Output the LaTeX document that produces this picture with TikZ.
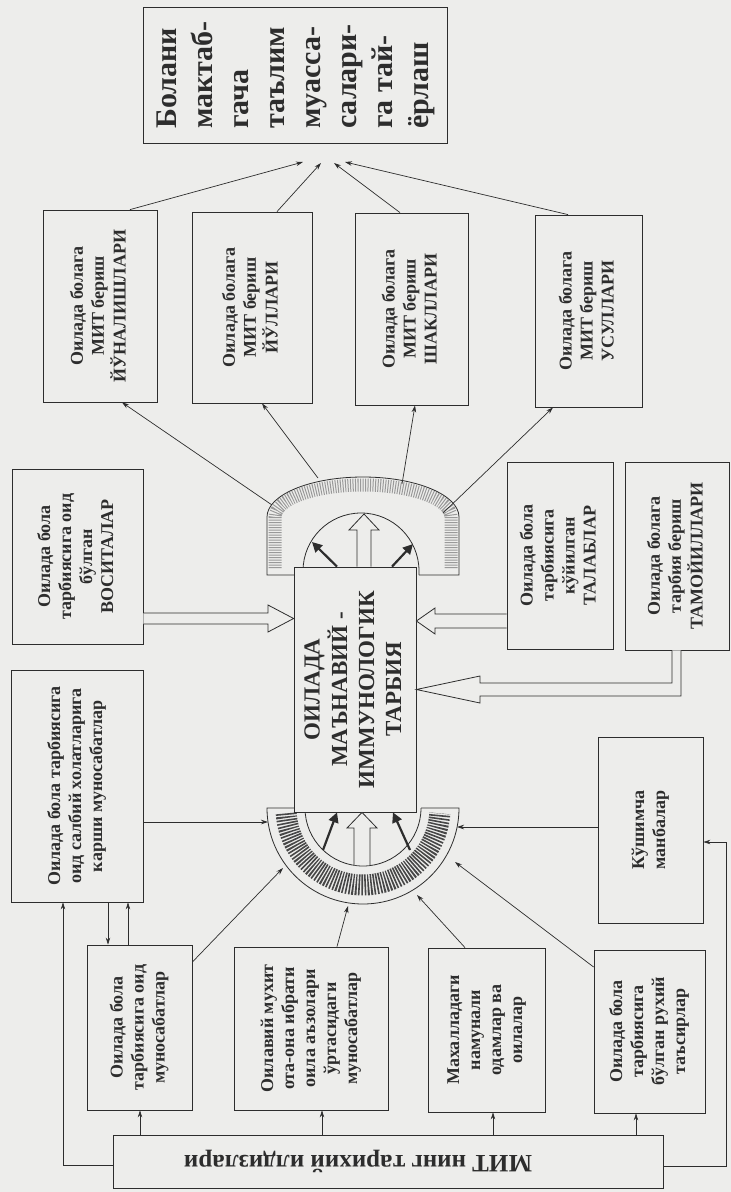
\documentclass[tikz,border=0pt]{standalone}
\usepackage{fontspec}
\setmainfont{Liberation Serif}
\usepackage{graphicx}
\usetikzlibrary{arrows.meta,calc}
\definecolor{paper}{RGB}{237,237,235}
\definecolor{ink}{RGB}{45,45,45}
\newcommand{\myrot}[2]{\rotatebox{90}{\begin{tabular}{@{}#1@{}}#2\end{tabular}}}
\begin{document}
\begin{tikzpicture}[x=1pt,y=-1pt,
  box/.style={draw=ink, line width=0.8pt, inner sep=0pt, font=\bfseries\fontsize{18}{21}\selectfont, text=ink},
  arr/.style={draw=ink, line width=0.7pt, -{Stealth[length=7pt,width=4.5pt]}},
  barr/.style={draw=ink, line width=2.2pt, -{Triangle[length=10pt,width=10pt]}},
  hol/.style={draw=ink, line width=0.8pt, fill=paper, line join=miter},
  ring/.style={draw=ink, line width=0.8pt}]
\useasboundingbox (0,0) rectangle (731,1192);
\fill[paper] (0,0) rectangle (731,1192);

% ---------- rings ----------
% upper arch
\draw[line width=13pt, draw=black!40, dash pattern=on 1pt off 1.5pt] (275,568) -- (275,517) arc[start angle=180, end angle=360, x radius=88, y radius=32] -- (451,568);
\draw[ring] (303,575) -- (267,575) -- (267,517) arc[start angle=180, end angle=360, x radius=96, y radius=40] -- (459,575) -- (419,575);
\draw[ring] (303,575) -- (303,571) arc[start angle=180, end angle=360, radius=58] -- (419,575);
% lower ring
\draw[line width=21pt, draw=black!72, dash pattern=on 1.6pt off 1.4pt] (363,808) ++(176:77) arc[start angle=176, end angle=4, radius=77];
\draw[ring] (305,808) -- (267,808) arc[start angle=180, end angle=0, radius=96] -- (421,808);
\draw[ring] (305,808) arc[start angle=180, end angle=0, radius=58];

% ---------- nodes ----------
\node[box, minimum width=304, minimum height=136, font=\bfseries\fontsize{30}{36}\selectfont] (top) at (295,75)
  {\myrot{l}{Болани\\мактаб-\\гача\\таълим\\муасса-\\салари-\\га тай-\\ёрлаш}};
\node[box, minimum width=114, minimum height=192] (b1) at (100,306) {\myrot{c}{Оилада болага\\МИТ бериш\\ЙЎНАЛИШЛАРИ}};
\node[box, minimum width=120, minimum height=191] (b2) at (252,307.5) {\myrot{c}{Оилада болага\\МИТ бериш\\ЙЎЛЛАРИ}};
\node[box, minimum width=113, minimum height=192] (b3) at (411.5,309) {\myrot{c}{Оилада болага\\МИТ бериш\\ШАКЛЛАРИ}};
\node[box, minimum width=107, minimum height=192] (b4) at (588.5,311) {\myrot{c}{Оилада болага\\МИТ бериш\\УСУЛЛАРИ}};
\node[box, minimum width=131, minimum height=175] (b5) at (77.5,556.5) {\myrot{c}{Оилада бола\\тарбиясига оид\\бўлган\\ВОСИТАЛАР}};
\node[box, fill=paper, minimum width=122, minimum height=245, font=\bfseries\fontsize{23}{27}\selectfont] (c) at (355,689.5)
  {\myrot{c}{ОИЛАДА\\МАЪНАВИЙ -\\ИММУНОЛОГИК\\ТАРБИЯ}};
\node[box, minimum width=106, minimum height=187] (b7) at (560,555.5) {\myrot{c}{Оилада бола\\тарбиясига\\кўйилган\\ТАЛАБЛАР}};
\node[box, minimum width=104, minimum height=188] (b8) at (677,556) {\myrot{c}{Оилада болага\\тарбия бериш\\ТАМОЙИЛЛАРИ}};
\node[box, minimum width=132, minimum height=232] (b9) at (77,786) {\myrot{c}{Оилада бола тарбиясига\\оид салбий холатларига\\карши муносабатлар}};
\node[box, minimum width=105, minimum height=165] (b10) at (139.5,1027.5) {\myrot{c}{Оилада бола\\тарбиясига оид\\муносабатлар}};
\node[box, minimum width=154, minimum height=163] (b11) at (311,1028.5) {\myrot{c}{Оилавий мухит\\ота-она ибрати\\оила аъзолари\\ўртасидаги\\муносабатлар}};
\node[box, minimum width=117, minimum height=164] (b12) at (486.5,1030) {\myrot{c}{Махалладаги\\намунали\\одамлар ва\\оилалар}};
\node[box, minimum width=111, minimum height=163] (b13) at (649.5,1031.5) {\myrot{c}{Оилада бола\\тарбиясига\\бўлган рухий\\таъсирлар}};
\node[box, minimum width=105, minimum height=186] (b14) at (650.5,830) {\myrot{c}{Кўшимча\\манбалар}};
\node[box, minimum width=550, minimum height=53] (b15) at (388,1161.5) {};
\node[inner sep=0pt, text=ink, font=\bfseries\fontsize{25}{30}\selectfont] (b15t) at (358,1161)
  {\rotatebox{180}{МИТ нинг тарихий илдизлари}};

% ---------- free ends near the top box ----------
\coordinate (tA) at (303,162);
\coordinate (tB) at (321,163);
\coordinate (tC) at (334,163);
\coordinate (tD) at (345,162);
\draw[arr] (b1.north -| 130,0) -- (tA);
\draw[arr] (b2.north -| 277,0) -- (tB);
\draw[arr] (b3.north -| 400,0) -- (tC);
\draw[arr] (b4.north -| 568,0) -- (tD);

% ---------- upper ring to boxes ----------
\coordinate (u1) at (272,505);
\coordinate (u2) at (318,478);
\coordinate (u3) at (402,484);
\coordinate (u4) at (443,513);
\draw[arr] (u1) -- (b1.south -| 122,0);
\draw[arr] (u2) -- (b2.south -| 262,0);
\draw[arr] (u3) -- (b3.south -| 415,0);
\draw[arr] (u4) -- (b4.south -| 553,0);

% bold arrows inside rings
\draw[barr] (c.north -| 337,0) -- (312,542);
\draw[barr] (c.north -| 392,0) -- (413,544);
\draw[barr] (323,850) -- (c.south -| 337,0);
\draw[barr] (410,850) -- (c.south -| 393,0);

% hollow arrows
\draw[hol] (c.north -| 357,0) -- (357,530) -- (349,530) -- (364,514) -- (379,530) -- (371,530) -- (c.north -| 371,0);
\draw[hol] (354,865) -- (354,828) -- (347,828) -- (c.south -| 362,0) -- (377,828) -- (370,828) -- (370,865);
\draw[hol] (b5.east |- 0,613) -- (268,613) -- (268,605) -- (c.west |- 0,618.5) -- (268,632) -- (268,624) -- (b5.east |- 0,624);
\draw[hol] (b7.west |- 0,614) -- (435,614) -- (435,608) -- (c.east |- 0,621) -- (435,634) -- (435,628) -- (b7.west |- 0,628);
\fill[ink] (672,650) rectangle (681,687);
\draw[hol] (b8.south -| 681,0) -- (681,696) -- (480,696) -- (480,703) -- (c.east |- 0,689.5) -- (480,676) -- (480,683) -- (672,683) -- (b8.south -| 672,0);

% ---------- lower ring inputs ----------
\coordinate (l1) at (268,822);
\coordinate (l2) at (283,868);
\coordinate (l3) at (348,906);
\coordinate (l4) at (417,895);
\coordinate (l5) at (455,862);
\coordinate (l6) at (457,827);
\draw[arr] (b9.east |- 0,822) -- (l1);
\draw[arr] (b10.east |- 0,962) -- (l2);
\draw[arr] (b11.north -| 337,0) -- (l3);
\draw[arr] (b12.north -| 465,0) -- (l4);
\draw[arr] (b13.west |- 0,967) -- (l5);
\draw[arr] (b14.west |- 0,827) -- (l6);

% ---------- bottom box connections ----------
\draw[arr] (b15.north -| 140,0) -- (b10.south -| 140,0);
\draw[arr] (b15.north -| 322,0) -- (b11.south -| 322,0);
\draw[arr] (b15.north -| 493,0) -- (b12.south -| 493,0);
\draw[arr] (b15.north -| 636,0) -- (b13.south -| 636,0);
\draw[arr] (b15.west |- 0,1165) -- (63,1165) -- (b9.south -| 63,0);
\draw[arr] (b15.east |- 0,1166) -- (726,1166) -- (726,842) -- (b14.east |- 0,842);
\draw[arr] (b9.south -| 108,0) -- (b10.north -| 108,0);
\draw[arr] (b10.north -| 128,0) -- (b9.south -| 128,0);
\end{tikzpicture}
\end{document}
